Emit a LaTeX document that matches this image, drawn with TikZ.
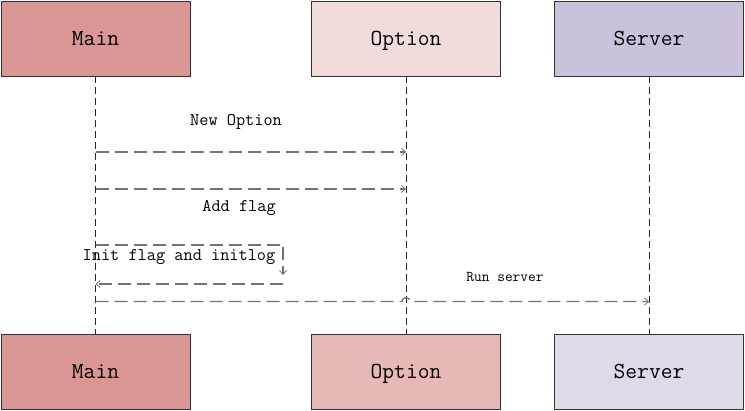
\documentclass[tikz,border=0pt]{standalone}
\usepackage{fontspec}
\usetikzlibrary{arrows.meta}
\definecolor{mainT}{RGB}{217,150,148}
\definecolor{optT}{RGB}{242,220,219}
\definecolor{srvT}{RGB}{204,193,218}
\definecolor{mainB}{RGB}{217,150,146}
\definecolor{optB}{RGB}{230,185,184}
\definecolor{srvB}{RGB}{224,218,232}
\definecolor{msgc}{RGB}{115,115,115}
\tikzset{
  actor/.style={draw=black!80, line width=0.9pt, minimum width=189pt, minimum height=75pt, inner sep=0pt, text height=14pt, text depth=0pt, font=\ttfamily\fontsize{22.9}{24}\selectfont},
  lifeline/.style={draw=black!85, line width=0.8pt, dash pattern=on 7pt off 4pt},
  msg/.style={draw=msgc, line width=1.3pt, dash pattern=on 13pt off 6pt, -{Straight Barb[length=4pt,width=7pt,line width=0.8pt]}},
  lbl/.style={font=\ttfamily\fontsize{17.8}{19}\selectfont, inner sep=0pt},
  lblsmall/.style={font=\ttfamily\fontsize{15}{17}\selectfont, inner sep=0pt}
}
\begin{document}
\begin{tikzpicture}[x=1pt,y=-1pt]
\useasboundingbox (0,0) rectangle (745,411);
\node[actor, fill=mainT] (mainTop) at (95.5,38.5) {Main};
\node[actor, fill=optT] (optTop) at (406,38.5) {Option};
\node[actor, fill=srvT] (srvTop) at (649,38.5) {Server};
\node[actor, fill=mainB] (mainBot) at (95.5,372) {Main};
\node[actor, fill=optB] (optBot) at (406,372) {Option};
\node[actor, fill=srvB] (srvBot) at (649,372) {Server};
\draw[lifeline] (mainTop.south) -- (mainBot.north);
\draw[lifeline] (optTop.south) -- (optBot.north);
\draw[lifeline] (srvTop.south) -- (srvBot.north);
% message endpoints
\coordinate (m1s) at (mainTop.south |- 0,152);
\coordinate (m1e) at (optTop.south |- 0,152);
\coordinate (m2s) at (mainTop.south |- 0,189);
\coordinate (m2e) at (optTop.south |- 0,189);
\coordinate (m3s) at (mainTop.south |- 0,245);
\coordinate (m3c) at (283,245);
\coordinate (m3e) at (283,275);
\coordinate (m4s) at (283,284);
\coordinate (m4e) at (mainTop.south |- 0,284);
\coordinate (m5s) at (mainTop.south |- 0,301.5);
\coordinate (m5h) at (optTop.south |- 0,301.5);
\coordinate (m5e) at (srvTop.south |- 0,301.5);
\draw[msg] (m1s) -- (m1e);
\draw[msg] (m2s) -- (m2e);
\draw[msg] (m3s) -- (m3c) -- (m3e);
\draw[msg] (m4s) -- (m4e);
\draw[msg] (m5s) -- ([xshift=-4pt]m5h) arc[start angle=180, end angle=0, radius=4pt] -- (m5e);
\node[lbl] (l1) at (236,122) {New Option};
\node[lbl] (l2) at (239,208) {Add flag};
\node[lbl] (l3) at (179,257) {Init flag and initlog};
\node[lblsmall] (l4) at (505,277) {Run server};
\end{tikzpicture}
\end{document}
